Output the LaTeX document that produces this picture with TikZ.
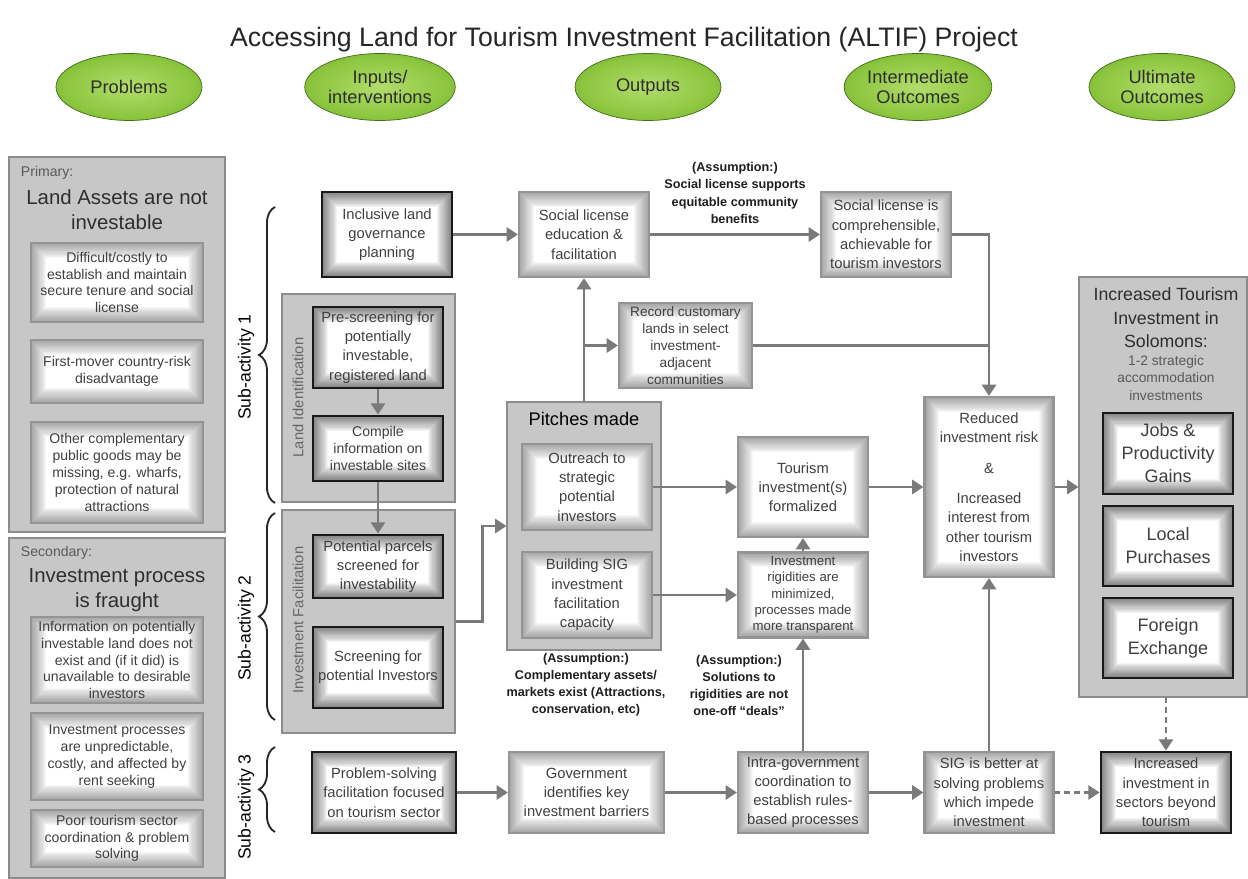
\documentclass[tikz,border=0pt]{standalone}
\usepackage{fontspec}
\setmainfont{Liberation Sans}
\usetikzlibrary{arrows.meta,shapes.geometric,decorations.pathreplacing}

\definecolor{leaflight}{HTML}{B2DC6C}
\definecolor{leafmid}{HTML}{8DC63F}
\definecolor{leafdark}{HTML}{5F9A24}
\pgfdeclareradialshading{leafball}{\pgfpoint{0bp}{0bp}}{color(0bp)=(leaflight); color(22bp)=(leafmid); color(42bp)=(leafdark); color(50bp)=(leafdark!80!black)}

\begin{document}
\begin{tikzpicture}[
  font=\fontsize{10.5}{13.7}\selectfont,
  >={Triangle[length=8pt,width=10pt]},
  stage/.style={ellipse,draw=leafdark!70!black,line width=.5pt,shade,shading=leafball,minimum width=3.65cm,minimum height=1.675cm,align=center,inner sep=1pt,text=black!82,font=\fontsize{13}{14.5}\selectfont},
  panel/.style={draw=black!45,line width=.8pt,fill=black!22},
  inglow/.style={path picture={
    \foreach \w in {1.5,3,...,21}{
      \draw[#1,line width=\w pt,opacity=.045] (path picture bounding box.south west) rectangle (path picture bounding box.north east);}}},
  softbox/.style={draw=black!42,line width=1.5pt,fill=white,inglow=black!70,align=center,text=black!75,inner sep=1pt},
  darkbox/.style={softbox,draw=black!90,line width=2pt,inglow=black},
  probbox/.style={softbox,minimum width=4.3cm,font=\fontsize{10}{12}\selectfont},
  note/.style={align=center,font=\bfseries\fontsize{9}{12.2}\selectfont,text=black!88},
  wire/.style={line width=1.9pt,black!52},
  line/.style={wire,->},
  hint/.style={line,dash pattern=on 4pt off 3pt},
  subbrace/.style={decorate,decoration={brace,amplitude=.4cm},line width=1.3pt,black!85},
  sublabel/.style={rotate=90,font=\fontsize{12.5}{14}\selectfont},
  grouplabel/.style={rotate=90,font=\fontsize{10.5}{12}\selectfont,text=black!60}
]
\fill[white] (0,0) rectangle (31.2,21.975);
\useasboundingbox (0,0) rectangle (31.2,21.975);

\node[font=\fontsize{19}{22}\selectfont,text=black!85] (title) at (15.6,20.975) {Accessing Land for Tourism Investment Facilitation (ALTIF) Project};

% Column headings.
\node[stage] (problems) at (3.225,19.8) {Problems};
\node[stage] (inputs) at (9.5,19.8) {Inputs/\\interventions};
\node[stage] (outputs) at (16.2,19.8) {Outputs};
\node[stage] (midout) at (22.95,19.8) {Intermediate\\Outcomes};
\node[stage] (ultout) at (29.05,19.8) {Ultimate\\Outcomes};

% Problems column.
\node[panel,minimum width=5.4cm,minimum height=9.375cm] (primary) at (2.925,13.3625) {};
\node[anchor=west,font=\fontsize{10}{12}\selectfont,text=black!65] (primlbl) at (0.4,17.65) {Primary:};
\node[align=center,font=\fontsize{14.5}{17.8}\selectfont,text=black!82] (primhead) at (2.925,16.74) {Land Assets are not\\investable};
\node[probbox,minimum height=1.975cm] (tenure) at (2.925,14.9125) {Difficult/costly to\\establish and maintain\\secure tenure and social\\license};
\node[probbox,minimum height=1.575cm] (firstmover) at (2.925,12.6875) {First-mover country-risk\\disadvantage};
\node[probbox,minimum height=2.525cm] (publicgoods) at (2.925,10.1625) {Other complementary\\public goods may be\\missing, e.g. wharfs,\\protection of natural\\attractions};

\node[panel,minimum width=5.4cm,minimum height=8.5cm] (secondary) at (2.925,4.275) {};
\node[anchor=west,font=\fontsize{10}{12}\selectfont,text=black!65] (seclbl) at (0.4,8.15) {Secondary:};
\node[align=center,font=\fontsize{14.5}{17.8}\selectfont,text=black!82] (sechead) at (2.925,7.225) {Investment process\\is fraught};
\node[probbox,minimum height=2.15cm] (landinfo) at (2.925,5.475) {Information on potentially\\investable land does not\\exist and (if it did) is\\unavailable to desirable\\investors};
\node[probbox,minimum height=2.175cm] (unpredict) at (2.925,3.0625) {Investment processes\\are unpredictable,\\costly, and affected by\\rent seeking};
\node[probbox,minimum height=1.425cm] (coord) at (2.925,1.0125) {Poor tourism sector\\coordination \& problem\\solving};

% Sub-activity braces.
\draw[subbrace] (6.875,9.4) -- (6.875,16.8);
\draw[subbrace] (6.875,3.975) -- (6.875,9.15);
\draw[subbrace] (6.875,1.175) -- (6.875,3.3);
\node[sublabel] (sub1) at (6.15,12.8) {Sub-activity 1};
\node[sublabel] (sub2) at (6.15,6.275) {Sub-activity 2};
\node[sublabel] (sub3) at (6.15,1.8) {Sub-activity 3};

% Sub-activity 1: governance and land identification.
\node[darkbox,minimum width=3.25cm,minimum height=2.125cm] (incl) at (9.675,16.1125) {Inclusive land\\governance\\planning};
\node[panel,minimum width=4.325cm,minimum height=5.2cm] (landid) at (9.2125,12.025) {};
\node[grouplabel] (landlbl) at (7.45,12.0375) {Land Identification};
\node[darkbox,minimum width=3.25cm,minimum height=2.025cm] (prescreen) at (9.45,13.2875) {Pre-screening for\\potentially\\investable,\\registered land};
\node[darkbox,minimum width=3.25cm,minimum height=1.625cm,font=\fontsize{10}{12}\selectfont] (compile) at (9.45,10.7625) {Compile\\information on\\investable sites};

\node[softbox,minimum width=3.25cm,minimum height=2.125cm] (socedu) at (14.6,16.1125) {Social license\\education \&\\facilitation};
\node[note] (asmsocial) at (18.375,17.15) {(Assumption:)\\Social license supports\\equitable community\\benefits};
\node[softbox,minimum width=3.25cm,minimum height=2.125cm] (soccomp) at (22.15,16.1125) {Social license is\\comprehensible,\\achievable for\\tourism investors};
\node[softbox,minimum width=3.325cm,minimum height=2.125cm,font=\fontsize{9.7}{12}\selectfont] (record) at (17.1375,13.3375) {Record customary\\lands in select\\investment-\\adjacent\\communities};

% Sub-activity 2: investment facilitation and pitches.
\node[panel,minimum width=4.325cm,minimum height=5.575cm] (invfac) at (9.2125,6.4375) {};
\node[grouplabel] (invlbl) at (7.45,6.475) {Investment Facilitation};
\node[darkbox,minimum width=3.25cm,minimum height=1.575cm] (parcels) at (9.45,7.8125) {Potential parcels\\screened for\\investability};
\node[darkbox,minimum width=3.25cm,minimum height=2.025cm] (screening) at (9.45,5.2875) {Screening for\\potential Investors};

\node[panel,minimum width=3.85cm,minimum height=6.2cm] (pitches) at (14.6,8.825) {};
\node[font=\fontsize{13}{15}\selectfont] (pitchlbl) at (14.6,11.5) {Pitches made};
\node[softbox,minimum width=3.25cm,minimum height=2.15cm] (outreach) at (14.675,9.8) {Outreach to\\strategic\\potential\\investors};
\node[softbox,minimum width=3.25cm,minimum height=2.15cm] (building) at (14.675,7.1) {Building SIG\\investment\\facilitation\\capacity};
\node[note] (asmpitch) at (14.65,4.85) {(Assumption:)\\Complementary assets/\\markets exist (Attractions,\\conservation, etc)};

\node[softbox,minimum width=3.25cm,minimum height=2.5cm] (tourism) at (20.075,9.8) {Tourism\\investment(s)\\formalized};
\node[softbox,minimum width=3.25cm,minimum height=2.125cm,inner sep=0pt,font=\fontsize{9.4}{11.6}\selectfont] (rigid) at (20.075,7.1) {Investment\\rigidities are\\minimized,\\processes made\\more transparent};
\node[note] (asmrigid) at (18.475,4.8375) {(Assumption:)\\Solutions to\\rigidities are not\\one-off “deals”};

\node[softbox,minimum width=3.225cm,minimum height=4.5cm] (reduced) at (24.725,9.8) {Reduced\\investment risk\\[8pt]\&\\[8pt]Increased\\interest from\\other tourism\\investors};

% Ultimate outcomes.
\node[panel,minimum width=4.2cm,minimum height=10.5cm] (ultimate) at (29.075,9.8) {};
\node[align=center,font=\fontsize{12.6}{16.7}\selectfont,text=black!82] (ulthead) at (29.15,14.025) {Increased Tourism\\Investment in\\Solomons:};
\node[align=center,font=\fontsize{9.8}{12.4}\selectfont,text=black!65] (ultsub) at (29.15,12.525) {1-2 strategic\\accommodation\\investments};
\node[darkbox,minimum width=3.25cm,minimum height=2.025cm,font=\fontsize{12.8}{16.4}\selectfont] (jobs) at (29.2,10.6375) {Jobs \&\\Productivity\\Gains};
\node[darkbox,minimum width=3.25cm,minimum height=2cm,font=\fontsize{12.8}{16.4}\selectfont] (local) at (29.2,8.325) {Local\\Purchases};
\node[darkbox,minimum width=3.25cm,minimum height=2cm,font=\fontsize{12.8}{16.4}\selectfont] (forex) at (29.2,6.025) {Foreign\\Exchange};

% Sub-activity 3: problem solving row.
\node[darkbox,minimum width=3.6cm,minimum height=2.025cm] (problem) at (9.6,2.1625) {Problem-solving\\facilitation focused\\on tourism sector};
\node[softbox,minimum width=3.875cm,minimum height=2.025cm] (gov) at (14.6625,2.1625) {Government\\identifies key\\investment barriers};
\node[softbox,minimum width=3.25cm,minimum height=2.025cm] (intra) at (20.075,2.1625) {Intra-government\\coordination to\\establish rules-\\based processes};
\node[softbox,minimum width=3.225cm,minimum height=2.025cm] (sigbetter) at (24.725,2.1625) {SIG is better at\\solving problems\\which impede\\investment};
\node[darkbox,minimum width=3.25cm,minimum height=2.025cm] (beyond) at (29.15,2.1625) {Increased\\investment in\\sectors beyond\\tourism};

% Connectors.
\draw[line] (incl.east) -- (socedu.west);
\draw[line] (socedu.east) -- (soccomp.west);
\draw[line] (soccomp.east) -| (reduced.north);
\draw[wire] (record.east) -- (record.east -| reduced.north);
\draw[line] (pitches.north) -- (socedu.south);
\draw[line] (pitches.north |- record.west) -- (record.west);
\draw[line] (prescreen.south) -- (compile.north);
\draw[line] (compile.south) -- (parcels.north);
\draw[line] (invfac.east) -- ++(.675,0) |- (pitches.west);
\draw[line] (outreach.east) -- (tourism.west);
\draw[line] (building.east) -- (rigid.west);
\draw[line] (rigid.north) -- (tourism.south);
\draw[line] (intra.north) -- (rigid.south);
\draw[line] (tourism.east) -- (reduced.west);
\draw[line] (reduced.east) -- (ultimate.west);
\draw[line] (sigbetter.north) -- (reduced.south);
\draw[line] (problem.east) -- (gov.west);
\draw[line] (gov.east) -- (intra.west);
\draw[line] (intra.east) -- (sigbetter.west);
\draw[hint] (sigbetter.east) -- (beyond.west);
\draw[hint] (ultimate.south -| beyond.north) -- (beyond.north);
\end{tikzpicture}
\end{document}
